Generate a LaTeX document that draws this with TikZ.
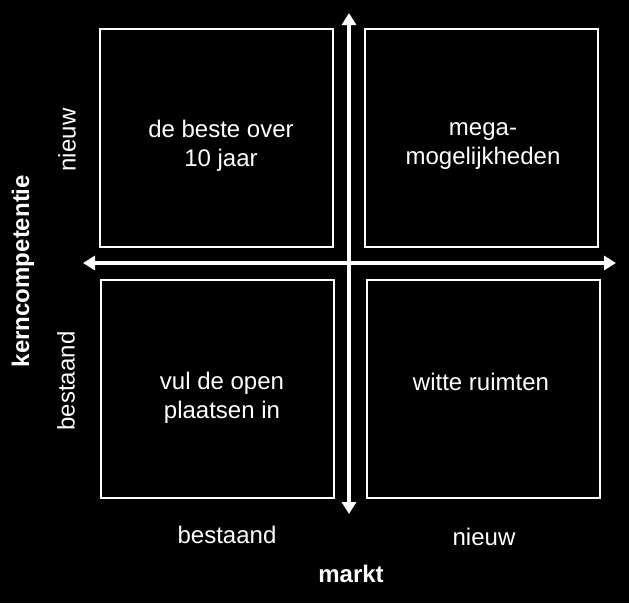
\documentclass[tikz,border=0pt]{standalone}
\usepackage{fontspec}
\setmainfont{Liberation Sans}
\usetikzlibrary{arrows.meta}
\begin{document}
\begin{tikzpicture}[x=1pt, y=-1pt]
    % Styles
    \tikzset{
        quad/.style={draw=white, line width=2pt, fill=black, minimum width=233pt, minimum height=218pt, inner sep=0pt},
        lbl/.style={text=white, align=center, font=\fontsize{24}{29}\selectfont, inner sep=0pt},
        axis/.style={draw=white, line width=3.5pt, {Triangle[length=12pt,width=14pt]}-{Triangle[length=12pt,width=14pt]}}
    }

    % Background
    \fill[black] (0,0) rectangle (629,603);
    \useasboundingbox (0,0) rectangle (629,603);

    % Quadrants
    \node[quad] (topleft) at (216, 137.5) {};
    \node[quad] (topright) at (481.5, 137.5) {};
    \node[quad] (botleft) at (217.5, 388.5) {};
    \node[quad] (botright) at (483, 388.5) {};

    % Axes
    \coordinate (west) at (83, 263);
    \coordinate (east) at (616, 263);
    \coordinate (north) at (349, 13);
    \coordinate (south) at (349, 514);
    \draw[axis] (west) -- (east);
    \draw[axis] (south) -- (north);

    % Quadrant texts
    \node[lbl] (best) at (221, 146) {de beste over\\10 jaar};
    \node[lbl] (mega) at (483, 146) {mega-\\mogelijkheden};
    \node[lbl] (vul) at (222, 398) {vul de open\\plaatsen in};
    \node[lbl] (witte) at (481, 382) {witte ruimten};

    % Horizontal axis labels
    \node[lbl] (mbestaand) at (227, 535) {bestaand};
    \node[lbl] (mnieuw) at (484, 537) {nieuw};
    \node[lbl, font=\fontsize{24}{29}\selectfont\bfseries] (markt) at (351, 574) {markt};

    % Vertical axis labels
    \node[lbl, rotate=90] (knieuw) at (67, 140) {nieuw};
    \node[lbl, rotate=90] (kbestaand) at (66, 381) {bestaand};
    \node[lbl, rotate=90, font=\fontsize{24}{29}\selectfont\bfseries] (kern) at (23, 271) {kerncompetentie};
\end{tikzpicture}
\end{document}
